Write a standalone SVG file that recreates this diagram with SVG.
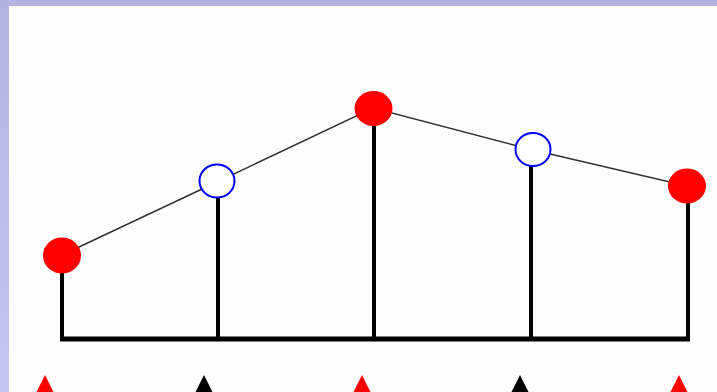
<svg xmlns="http://www.w3.org/2000/svg" width="717" height="392" viewBox="0 0 717 392">
<defs>
<linearGradient id="band" x1="0" y1="0" x2="0" y2="1">
<stop offset="0" stop-color="#b3b3e1"/>
<stop offset="1" stop-color="#c6c6f4"/>
</linearGradient>
<style>
.post{stroke:#000;stroke-width:4;fill:none}
.poly{stroke:#333;stroke-width:1.5;fill:none}
.red{fill:#ff0000}
.open{fill:#fff;stroke:#0000ff;stroke-width:2}
.tr{fill:#ff0000}
.tb{fill:#000}
</style>
</defs>
<rect x="0" y="0" width="717" height="392" fill="#fefefe"/>
<rect x="0" y="0" width="717" height="6" fill="#b3b3e1"/>
<rect x="0" y="0" width="9" height="392" fill="url(#band)"/>
<g id="connectors">
<polyline class="poly" points="62,255 217,182 373,108 533,150 687,186"/>
<path class="post" d="M62,255V339M218,182V339M374,108V339M531,150V339M688,186V339"/>
<path d="M60,339H690" stroke="#000" stroke-width="5"/>
</g>
<g id="p1"><ellipse class="red" cx="62" cy="255.5" rx="19" ry="18"/></g>
<g id="p2"><ellipse class="open" cx="217" cy="181" rx="17.5" ry="16.5"/></g>
<g id="p3"><ellipse class="red" cx="373.5" cy="108.5" rx="19" ry="17.5"/></g>
<g id="p4"><ellipse class="open" cx="533" cy="149.5" rx="17.5" ry="16.5"/></g>
<g id="p5"><ellipse class="red" cx="687" cy="186" rx="19" ry="17.5"/></g>
<g id="t1"><polygon class="tr" points="45,375 36,393 54,393"/></g>
<g id="t2"><polygon class="tb" points="204,375 195,393 213,393"/></g>
<g id="t3"><polygon class="tr" points="362,375 353,393 371,393"/></g>
<g id="t4"><polygon class="tb" points="520,375 511,393 529,393"/></g>
<g id="t5"><polygon class="tr" points="679,375 670,393 688,393"/></g>
</svg>
